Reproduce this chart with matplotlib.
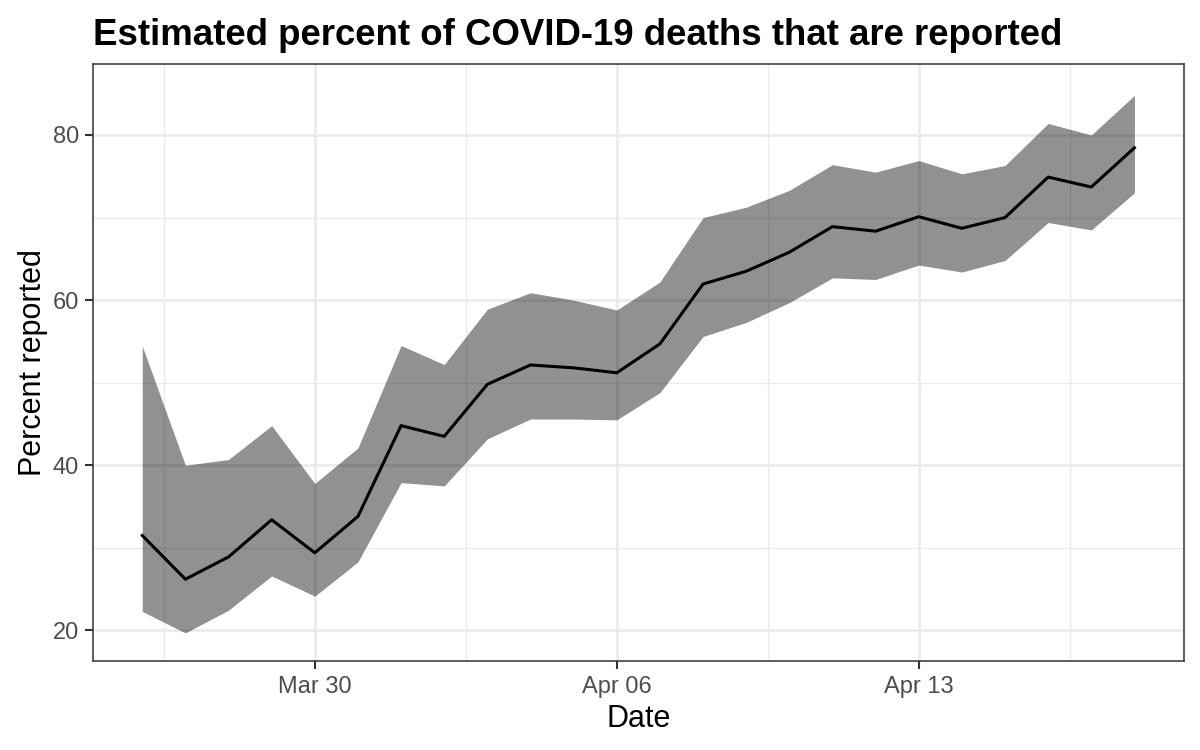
import numpy as np
import pandas as pd
import matplotlib
matplotlib.use("Agg")
import matplotlib.pyplot as plt
import matplotlib.dates as mdates
from matplotlib.ticker import MultipleLocator

plt.rcParams['font.family'] = ['Liberation Sans', 'DejaVu Sans']

dates = pd.date_range("2020-03-26", "2020-04-18", freq="D")
pct = [31.5, 26.2, 28.9, 33.4, 29.4, 33.8, 44.8, 43.5, 49.8, 52.15, 51.8, 51.2,
       54.7, 61.95, 63.5, 65.8, 68.9, 68.35, 70.1, 68.7, 70.0, 74.9, 73.7, 78.45]
upper = [54.45, 40.0, 40.7, 44.8, 37.8, 42.1, 54.5, 52.2, 58.9, 60.9, 60.0, 58.8,
         62.2, 70.0, 71.25, 73.3, 76.4, 75.5, 76.9, 75.3, 76.3, 81.4, 80.0, 84.8]
lower = [22.3, 19.7, 22.45, 26.6, 24.15, 28.3, 37.9, 37.5, 43.2, 45.6, 45.6, 45.5,
         48.8, 55.6, 57.3, 59.7, 62.7, 62.5, 64.25, 63.4, 64.8, 69.4, 68.5, 73.0]

fig = plt.figure(figsize=(12, 7.5), dpi=100)
ax = fig.add_axes([0.0772, 0.1187, 0.9095, 0.7960])

ax.fill_between(dates, lower, upper, color="black", alpha=0.43, linewidth=0, zorder=2)
ax.plot(dates, pct, color="black", linewidth=2.2, zorder=3)

pad = pd.Timedelta(days=1.15)
ax.set_xlim(dates[0] - pad, dates[-1] + pad)
ax.set_ylim(16.3, 88.6)

ax.xaxis.set_major_locator(mdates.DayLocator(bymonthday=[30, 6, 13]))
ax.xaxis.set_major_formatter(mdates.DateFormatter("%b %d"))
minor = pd.to_datetime(["2020-03-26 12:00", "2020-04-02 12:00", "2020-04-09 12:00", "2020-04-16 12:00"])
ax.set_xticks(minor, minor=True)
ax.yaxis.set_major_locator(MultipleLocator(20))
ax.yaxis.set_minor_locator(MultipleLocator(10))

ax.grid(which="major", color="#EBEBEB", linewidth=2.0, zorder=0)
ax.grid(which="minor", color="#EBEBEB", linewidth=1.0, zorder=0)
ax.set_axisbelow(True)

for s in ax.spines.values():
    s.set_color("#333333")
    s.set_linewidth(1.1)

ax.tick_params(which="major", length=5.8, width=1.5, color="#333333",
               labelsize=17, labelcolor="#4D4D4D", pad=4)
ax.tick_params(axis="x", which="major", pad=5)
ax.tick_params(which="minor", length=0)

ax.set_xlabel("Date", fontsize=22, labelpad=4)
ax.set_ylabel("Percent reported", fontsize=22, labelpad=3)
ax.set_title("Estimated percent of COVID-19 deaths that are reported",
             fontsize=26.4, fontweight="bold", loc="left", pad=14, x=0)

fig.savefig("out.png", dpi=100)
